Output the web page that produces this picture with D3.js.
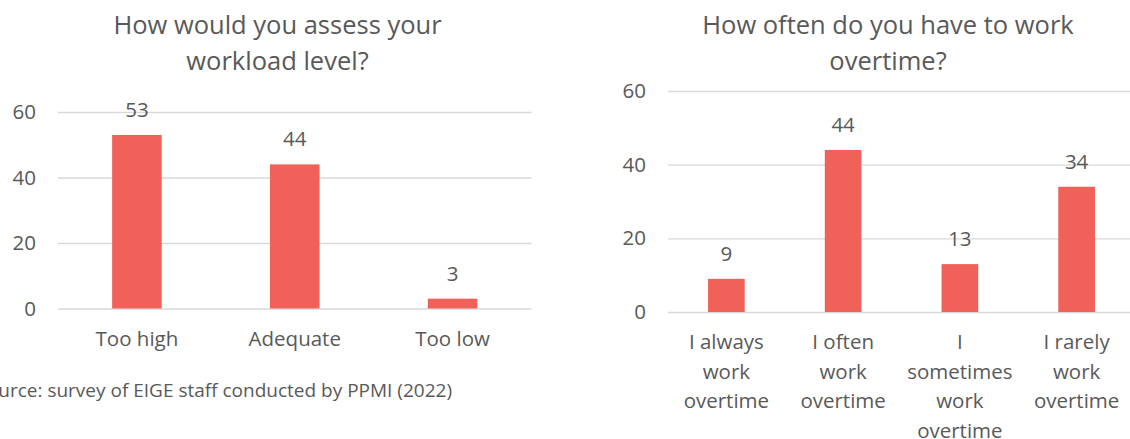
<!DOCTYPE html>
<html>
<head>
<meta charset="utf-8">
<script src="https://cdn.jsdelivr.net/npm/d3@7/dist/d3.min.js"></script>
<style>
  html, body { margin: 0; padding: 0; background: #fff; }
  svg { display: block; }
  text { font-family: "Open Sans", "Noto Sans", sans-serif; fill: #595959; }
</style>
</head>
<body>
<svg id="chart" width="1130" height="439"></svg>
<script>
// Survey results: workload and overtime
const yTicks = [0, 20, 40, 60];

const workloadTitle = ["How would you assess your", "workload level?"];
const workloadCategories = ["Too high", "Adequate", "Too low"];
const workloadValues = [53, 44, 3];

const overtimeTitle = ["How often do you have to work", "overtime?"];
const overtimeCategories = [
  "I always work overtime",
  "I often work overtime",
  "I sometimes work overtime",
  "I rarely work overtime"
];
const overtimeLabelLines = [
  ["I always", "work", "overtime"],
  ["I often", "work", "overtime"],
  ["I", "sometimes", "work", "overtime"],
  ["I rarely", "work", "overtime"]
];
const overtimeValues = [9, 44, 13, 34];

const sourceNote = "Source: survey of EIGE staff conducted by PPMI (2022)";

const BAR = "#EF6159";
const GRID = "#d9d9d9";
const FONT = "'Open Sans', 'Noto Sans', sans-serif";
const LABEL_SIZE = "20.5px";

const svg = d3.select("#chart");

function drawPanel(cfg) {
  const g = svg.append("g");
  const x = d3.scaleBand()
    .domain(cfg.categories)
    .range([cfg.x0, cfg.x1])
    .paddingInner(0.686)
    .paddingOuter(0.343);
  const y = d3.scaleLinear().domain([0, 60]).range([cfg.yBottom, cfg.yTop]);

  // title
  const title = g.append("text")
    .attr("x", cfg.titleX)
    .attr("text-anchor", "middle")
    .style("font-size", "25.5px");
  cfg.title.forEach((line, i) => {
    title.append("tspan").attr("x", cfg.titleX).attr("y", 34 + i * 36).text(line);
  });

  // value axis with gridlines
  const yAxis = g.append("g")
    .attr("transform", `translate(${cfg.x0},0)`)
    .call(d3.axisLeft(y).tickValues(yTicks).tickSize(-(cfg.x1 - cfg.x0)).tickPadding(22));
  yAxis.select(".domain").remove();
  yAxis.selectAll(".tick line").attr("stroke", GRID).attr("stroke-width", 1.3);
  yAxis.selectAll(".tick text")
    .attr("fill", "#595959")
    .style("font-family", FONT)
    .style("font-size", LABEL_SIZE);

  // bars
  g.selectAll("rect.bar")
    .data(cfg.values)
    .join("rect")
    .attr("class", "bar")
    .attr("x", (d, i) => x(cfg.categories[i]))
    .attr("width", x.bandwidth())
    .attr("y", d => y(d))
    .attr("height", d => y(0) - y(d))
    .attr("fill", BAR);

  // value labels
  g.selectAll("text.val")
    .data(cfg.values)
    .join("text")
    .attr("class", "val")
    .attr("x", (d, i) => x(cfg.categories[i]) + x.bandwidth() / 2)
    .attr("y", d => y(d) - 18)
    .attr("text-anchor", "middle")
    .style("font-size", LABEL_SIZE)
    .text(d => d);

  // category labels
  const xAxis = g.append("g")
    .attr("transform", `translate(0,${cfg.yBottom})`)
    .call(d3.axisBottom(x).tickSize(0).tickFormat(""));
  xAxis.select(".domain").remove();
  xAxis.selectAll(".tick").each(function (d, i) {
    const t = d3.select(this).append("text")
      .attr("text-anchor", "middle")
      .attr("fill", "#595959")
      .style("font-family", FONT)
      .style("font-size", LABEL_SIZE);
    cfg.labelLines[i].forEach((line, k) => {
      t.append("tspan").attr("x", 0).attr("y", 37 + k * 29.5).text(line);
    });
  });
}

drawPanel({
  title: workloadTitle,
  titleX: 277.5,
  categories: workloadCategories,
  labelLines: workloadCategories.map(c => [c]),
  values: workloadValues,
  x0: 58, x1: 531.5,
  yTop: 112, yBottom: 308.5
});

drawPanel({
  title: overtimeTitle,
  titleX: 888,
  categories: overtimeCategories,
  labelLines: overtimeLabelLines,
  values: overtimeValues,
  x0: 668, x1: 1135,
  yTop: 91, yBottom: 312
});

// source note (starts left of the visible area)
svg.append("text")
  .attr("x", 452)
  .attr("y", 397)
  .attr("text-anchor", "end")
  .style("font-size", "19px")
  .text(sourceNote);
</script>
</body>
</html>
